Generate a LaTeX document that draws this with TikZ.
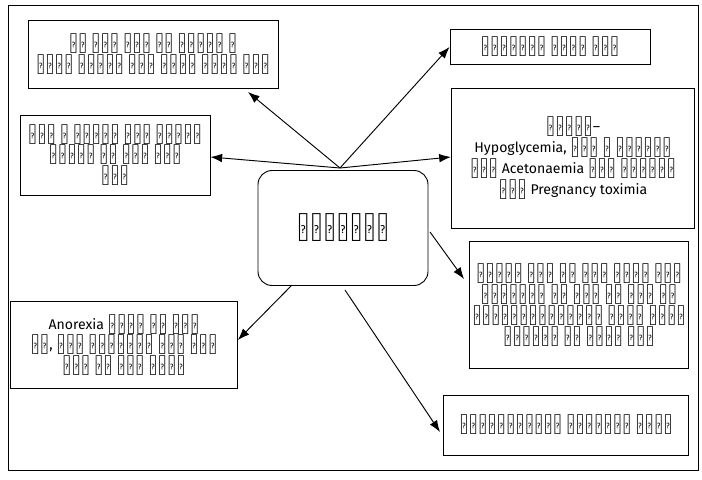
\documentclass[tikz,border=0pt]{standalone}
\usepackage{fontspec}
\setmainfont{Fira Sans}
\usetikzlibrary{arrows.meta}
\tikzset{
    box/.style={draw,thick,align=center,inner sep=2pt,font=\fontsize{12}{15}\selectfont},
    link/.style={thick,-{Latex[length=3.5mm,width=2.6mm]}}
}
\begin{document}
\begin{tikzpicture}[x=0.03cm,y=-0.03cm]
    \useasboundingbox (0,0) rectangle (702,480);
    \draw[thick] (8,5) rectangle (698,470);
    \node[box,rounded corners=12pt,minimum width=5.1cm,minimum height=3.45cm,font=\fontsize{17}{20}\selectfont] (center) at (343,228) {कीटोसिस};
    \node[box,minimum width=7.5cm,minimum height=2.04cm] (lactation) at (153,54) {यह रोग पशु के तीसरे व\\चौथे ब्यात में अधिक होता है।};
    \node[box,minimum width=6cm,minimum height=1.05cm] (metab) at (550,47) {उपापचयी जनित रोग};
    \node[box,minimum width=5.7cm,minimum height=2.4cm] (smell) at (115,155) {दूध व पेशाब में कीटोन\\बॉडीज की गंध आती\\है।};
    \node[box,minimum width=7.3cm,minimum height=4.2cm] (names) at (573,158) {उपनाम–\\Hypoglycemia, गाय व भैंसों\\में Acetonaemia तथा भेड़ों\\में Pregnancy toximia};
    \node[box,minimum width=6.5cm,minimum height=3.8cm] (cause) at (579,305) {पशुओं में यह रोग रक्त में\\ग्लूकोज की कमी से तथा कम\\कार्बोहाइड्रेट वाला आहार\\खिलाने से होता है।};
    \node[box,minimum width=6.8cm,minimum height=2.6cm] (anorexia) at (124,345) {Anorexia शरीर का भार\\कम, दूध उत्पादन में कमी\\तथा थन में सूजन};
    \node[box,minimum width=7.35cm,minimum height=1.8cm] (ration) at (566,425) {मेटाबोलिज्म गड़बड़ी राशन};
    \coordinate (hub) at (340,168);
    \coordinate (low) at (430,232);
    \coordinate (left) at (292,285);
    \coordinate (right) at (345,290);
    \draw[link] (hub) -- (248,92);
    \draw[link] (hub) -- (metab.west);
    \draw[link] (hub) -- (smell.east |- 0,157);
    \draw[link] (hub) -- (names.west |- 0,157);
    \draw[link] (low) -- (464,279);
    \draw[link] (left) -- (anorexia.east |- 0,340);
    \draw[link] (right) -- (440,432);
\end{tikzpicture}
\end{document}
